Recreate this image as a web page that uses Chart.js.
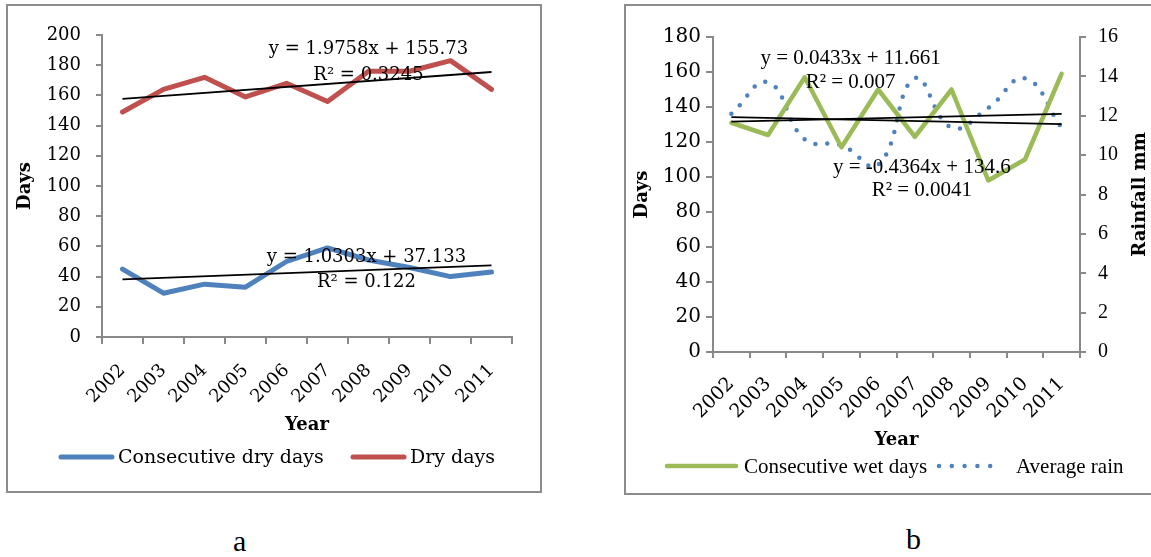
<!DOCTYPE html>
<html>
<head>
<meta charset="utf-8">
<script src="https://cdn.jsdelivr.net/npm/chart.js@4.4.1/dist/chart.umd.min.js"></script>
<style>
  html, body { margin: 0; padding: 0; background: #fff; }
  body { width: 1151px; height: 557px; position: relative; overflow: hidden; }
  .box { position: absolute; border: 2px solid #8c8c8c; box-sizing: border-box; background: #fff; }
  .box canvas { position: absolute; left: 0; top: 0; }
  .cap { position: absolute; font-family: "Liberation Serif", serif; font-size: 30px; line-height: 1; color: #000; }
</style>
</head>
<body>
<div class="box" style="left:6px; top:4px; width:536px; height:489px;">
  <canvas id="chartA" width="532" height="485"></canvas>
</div>
<div class="box" style="left:624px; top:4px; width:540px; height:491px;">
  <canvas id="chartB" width="536" height="487"></canvas>
</div>
<div class="cap" style="left:233px; top:526px;">a</div>
<div class="cap" style="left:906px; top:524px;">b</div>

<script>
// ---- data ----
const years = ['2002', '2003', '2004', '2005', '2006', '2007', '2008', '2009', '2010', '2011'];

const consecutiveDryDays = [45, 29, 35, 33, 50, 59, 51, 46, 40, 43];
const dryDays = [149, 164, 172, 159, 168, 156, 176, 176, 183, 164];

const consecutiveWetDays = [131, 124, 157, 117, 150, 123, 150, 98, 110, 159];
const averageRain = [12.1, 13.7, 10.8, 10.5, 9.5, 13.9, 11.4, 12.4, 13.9, 11.4];

const daysTicksA = [0, 20, 40, 60, 80, 100, 120, 140, 160, 180, 200];
const daysTicksB = [0, 20, 40, 60, 80, 100, 120, 140, 160, 180];
const rainTicks = [0, 2, 4, 6, 8, 10, 12, 14, 16];

// linear trend lines: [slope, intercept, R²]
const trendConsecDry = [1.0303, 37.133, 0.122];
const trendDry = [1.9758, 155.73, 0.3245];
const trendWet = [-0.4364, 134.6, 0.0041];
const trendRain = [0.0433, 11.661, 0.007];

// ---- helpers ----
const GRAY = '#898989';
const CENTURY = "'DejaVu Serif', serif";
const TIMES = "'Liberation Serif', serif";

function trendPoints(t) {
  // trend evaluated at the first and last year (x = 1 .. n)
  const n = years.length;
  return [
    { x: years[0], y: t[0] * 1 + t[1] },
    { x: years[n - 1], y: t[0] * n + t[1] }
  ];
}
function equation(t) {
  return 'y = ' + t[0] + 'x + ' + t[1];
}
function rSquared(t) {
  return 'R\u00B2 = ' + t[2];
}
function trendDataset(t, axis) {
  return {
    label: 'trend', data: trendPoints(t), yAxisID: axis,
    borderColor: '#000', borderWidth: 1.8, pointRadius: 0, tension: 0,
    fill: false, order: 0
  };
}

// draws equations, legend rows and extra axis titles on top of the chart
const overlay = {
  id: 'overlay',
  afterDatasetsDraw(chart, args, opts) {
    const ctx = chart.ctx;
    const xs = chart.scales.x;
    ctx.save();
    (opts.notes || []).forEach(n => {
      const ys = chart.scales[n.axis];
      ctx.font = n.font;
      ctx.fillStyle = '#000';
      ctx.textAlign = 'center';
      ctx.textBaseline = 'alphabetic';
      ctx.fillText(n.text, xs.getPixelForValue(n.at), ys.getPixelForValue(n.val));
    });
    (opts.legend || []).forEach(item => {
      const ds = chart.data.datasets[item.index];
      ctx.save();
      ctx.strokeStyle = ds.borderColor;
      ctx.lineWidth = item.width;
      ctx.lineCap = 'round';
      ctx.setLineDash(item.dash || []);
      ctx.beginPath();
      ctx.moveTo(item.x0, item.y);
      ctx.lineTo(item.x1, item.y);
      ctx.stroke();
      ctx.restore();
      ctx.font = item.font;
      ctx.fillStyle = '#000';
      ctx.textAlign = 'left';
      ctx.textBaseline = 'middle';
      ctx.fillText(ds.label, item.tx, item.y + 1);
    });
    (opts.titles || []).forEach(t => {
      const ca = chart.chartArea;
      ctx.save();
      ctx.translate(t.x, (ca.top + ca.bottom) / 2);
      ctx.rotate(-Math.PI / 2);
      ctx.font = t.font;
      ctx.fillStyle = '#000';
      ctx.textAlign = 'center';
      ctx.textBaseline = 'middle';
      ctx.fillText(t.text, 0, 0);
      ctx.restore();
    });
    ctx.restore();
  }
};

function xAxis(fontSize, tickLen, pad, height) {
  return {
    type: 'category', offset: true,
    grid: { display: true, offset: true, drawOnChartArea: false, drawTicks: true, tickLength: tickLen, color: GRAY, lineWidth: 2 },
    border: { display: true, color: GRAY, width: 2 },
    ticks: { font: { family: CENTURY, size: fontSize }, color: '#000', minRotation: 45, maxRotation: 45,
             autoSkip: false, padding: pad },
    title: { display: true, text: 'Year', color: '#000', font: { family: CENTURY, size: 18, weight: 'bold' },
             padding: { top: 0, bottom: 10 } },
    afterFit: s => { s.height = height; }
  };
}
function yAxis(position, ticks, font, tickLen, pad, width, title, titlePad) {
  return {
    type: 'linear', position: position,
    min: ticks[0], max: ticks[ticks.length - 1],
    grid: { display: true, drawOnChartArea: false, drawTicks: true, tickLength: tickLen, color: GRAY, lineWidth: 2 },
    border: { display: true, color: GRAY, width: 2 },
    ticks: { font: font, color: '#000', padding: pad },
    afterBuildTicks: s => { s.ticks = ticks.map(v => ({ value: v })); },
    title: title ? { display: true, text: title, color: '#000', font: { family: CENTURY, size: 18, weight: 'bold' },
                     padding: { top: titlePad, bottom: 0 } } : { display: false },
    afterFit: s => { s.width = width; }
  };
}

// ---- chart a: dry days ----
new Chart(document.getElementById('chartA'), {
  type: 'line',
  data: {
    labels: years,
    datasets: [
      trendDataset(trendConsecDry, 'y'),
      trendDataset(trendDry, 'y'),
      { label: 'Consecutive dry days', data: consecutiveDryDays, yAxisID: 'y',
        borderColor: '#4F81BD', backgroundColor: '#4F81BD', borderWidth: 5, pointRadius: 0,
        borderJoinStyle: 'round', borderCapStyle: 'round', tension: 0, order: 1 },
      { label: 'Dry days', data: dryDays, yAxisID: 'y',
        borderColor: '#C0504D', backgroundColor: '#C0504D', borderWidth: 5, pointRadius: 0,
        borderJoinStyle: 'round', borderCapStyle: 'round', tension: 0, order: 1 }
    ]
  },
  options: {
    responsive: false, animation: false, events: [],
    layout: { padding: { left: 0, right: 28, top: 29, bottom: 45 } },
    plugins: {
      legend: { display: false }, tooltip: { enabled: false },
      overlay: {
        notes: [
          { text: equation(trendDry), at: 6.0, val: 187.3, axis: 'y', font: '18px ' + CENTURY },
          { text: rSquared(trendDry), at: 6.0, val: 170.2, axis: 'y', font: '18px ' + CENTURY },
          { text: equation(trendConsecDry), at: 5.95, val: 50.0, axis: 'y', font: '18px ' + CENTURY },
          { text: rSquared(trendConsecDry), at: 5.95, val: 33.1, axis: 'y', font: '18px ' + CENTURY }
        ],
        legend: [
          { index: 2, x0: 53, x1: 104, y: 451, width: 5, tx: 110, font: '19px ' + CENTURY },
          { index: 3, x0: 345, x1: 396, y: 451, width: 5, tx: 402, font: '19px ' + CENTURY }
        ]
      }
    },
    scales: {
      x: xAxis(18, 7, 16, 109),
      y: yAxis('left', daysTicksA, { family: CENTURY, size: 18 }, 6, 15, 94, 'Days', 7)
    }
  },
  plugins: [overlay]
});

// ---- chart b: wet days and rainfall ----
new Chart(document.getElementById('chartB'), {
  type: 'line',
  data: {
    labels: years,
    datasets: [
      trendDataset(trendWet, 'y'),
      trendDataset(trendRain, 'y2'),
      { label: 'Consecutive wet days', data: consecutiveWetDays, yAxisID: 'y',
        borderColor: '#9BBB59', backgroundColor: '#9BBB59', borderWidth: 4.5, pointRadius: 0,
        borderJoinStyle: 'round', borderCapStyle: 'round', tension: 0, order: 1 },
      { label: 'Average rain', data: averageRain, yAxisID: 'y2',
        borderColor: '#4F81BD', backgroundColor: '#4F81BD', borderWidth: 4.5, pointRadius: 0,
        borderDash: [0, 12], borderCapStyle: 'round', tension: 0.45, order: 1 }
    ]
  },
  options: {
    responsive: false, animation: false, events: [],
    layout: { padding: { left: 0, right: 0, top: 31, bottom: 32 } },
    plugins: {
      legend: { display: false }, tooltip: { enabled: false },
      overlay: {
        notes: [
          { text: equation(trendRain), at: 3.25, val: 164.4, axis: 'y', font: '21px ' + TIMES },
          { text: rSquared(trendRain), at: 3.25, val: 150.9, axis: 'y', font: '21px ' + TIMES },
          { text: equation(trendWet), at: 5.19, val: 102.5, axis: 'y', font: '21px ' + TIMES },
          { text: rSquared(trendWet), at: 5.19, val: 88.9, axis: 'y', font: '21px ' + TIMES }
        ],
        legend: [
          { index: 2, x0: 41, x1: 110, y: 460, width: 4.5, tx: 118, font: '21px ' + TIMES },
          { index: 3, x0: 313, x1: 377, y: 460, width: 4.5, dash: [0, 12.8], tx: 390, font: '21px ' + TIMES }
        ],
        titles: [
          { text: 'Rainfall mm', x: 514, font: 'bold 18px ' + CENTURY }
        ]
      }
    },
    scales: {
      x: xAxis(19, 6, 15, 109),
      y: yAxis('left', daysTicksB, { family: CENTURY, size: 20 }, 7, 5, 87, 'Days', 6),
      y2: yAxis('right', rainTicks, { family: TIMES, size: 20 }, 6, 12, 82, null, 0)
    }
  },
  plugins: [overlay]
});
</script>
</body>
</html>
